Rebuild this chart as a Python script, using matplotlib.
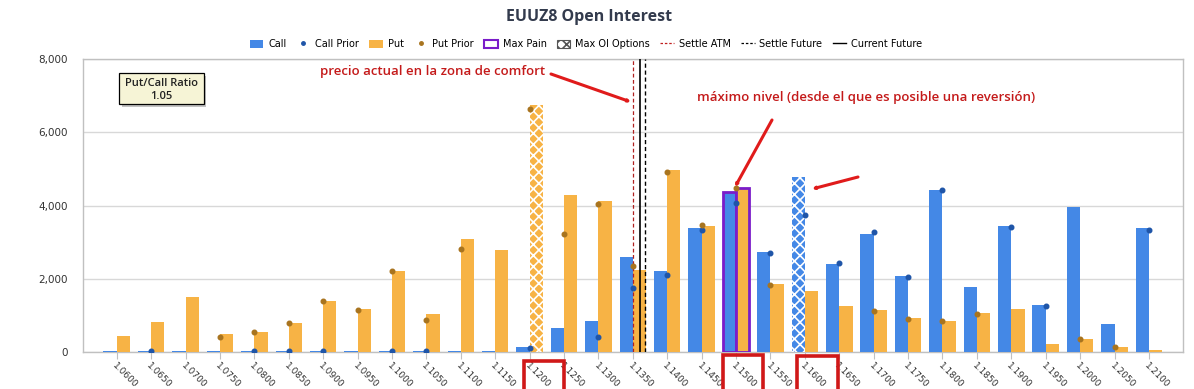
import numpy as np
import matplotlib
matplotlib.use("Agg")
import matplotlib.pyplot as plt
from matplotlib.patches import Rectangle, Patch, FancyArrowPatch
from matplotlib.lines import Line2D
from matplotlib.ticker import FuncFormatter

nan = np.nan

# strikes 1.0600 .. 1.2100
strikes = ["1.0600", "1.0650", "1.0700", "1.0750", "1.0800", "1.0850", "1.0900", "1.0950",
           "1.1000", "1.1050", "1.1100", "1.1150", "1.1200", "1.1250", "1.1300", "1.1350",
           "1.1400", "1.1450", "1.1500", "1.1550", "1.1600", "1.1650", "1.1700", "1.1750",
           "1.1800", "1.1850", "1.1900", "1.1950", "1.2000", "1.2050", "1.2100"]
calls = [30, 30, 30, 30, 30, 30, 30, 30, 30, 30, 30, 30, 120, 660, 850, 2580,
         2200, 3380, 4360, 2740, 4770, 2390, 3220, 2060, 4430, 1760, 3440, 1270, 3950, 770, 3380]
puts = [430, 810, 1500, 480, 540, 780, 1380, 1180, 2210, 1030, 3090, 2780, 6740, 4290, 4120, 2230,
        4980, 3450, 4470, 1840, 1650, 1240, 1130, 910, 850, 1050, 1160, 220, 360, 140, 55]
call_prior = [nan, 20, nan, nan, 20, 20, 20, nan, 20, 20, nan, nan, 110, nan, 390, 1740,
              2090, 3340, 4060, 2700, 3730, 2440, 3270, 2040, 4430, nan, 3410, 1250, nan, nan, 3340]
put_prior = [nan, nan, nan, 390, 540, 780, 1380, 1150, 2210, 880, 2800, nan, 6650, 3220, 4040, 2340,
             4920, 3460, 4470, 1820, nan, nan, 1100, 900, 850, 1030, nan, nan, 350, 140, nan]

max_pain = "1.1500"
max_oi_put = "1.1200"
max_oi_call = "1.1600"
settle_atm = 1.1350
current_future = 1.1360
settle_future = 1.1367
pc_ratio = "1.05"

W, H = 1194, 389
BLUE = "#4488e6"
ORANGE = "#f7b345"
PURPLE = "#7a1cc9"

plt.rcParams["hatch.linewidth"] = 1.2

fig = plt.figure(figsize=(W / 100, H / 100), dpi=100)
ax = fig.add_axes([83 / W, 1 - 351.7 / H, (1183 - 83) / W, (351.7 - 59.3) / H])

x = np.arange(len(strikes))
bw = 0.385

def strike_pos(s):
    return (s - 1.06) / 0.005

for i, s in enumerate(strikes):
    if s == max_pain:
        ax.bar(x[i] - bw / 2, calls[i], bw, color=BLUE, edgecolor=PURPLE, linewidth=2, zorder=3)
        ax.bar(x[i] + bw / 2, puts[i], bw, color=ORANGE, edgecolor=PURPLE, linewidth=2, zorder=3)
        continue
    if s == max_oi_call:
        ax.bar(x[i] - bw / 2, calls[i], bw, color=BLUE, edgecolor="white", linewidth=0,
               hatch="xxx", zorder=3)
    else:
        ax.bar(x[i] - bw / 2, calls[i], bw, color=BLUE, linewidth=0, zorder=3)
    if s == max_oi_put:
        ax.bar(x[i] + bw / 2, puts[i], bw, color=ORANGE, edgecolor="white", linewidth=0,
               hatch="xxx", zorder=3)
    else:
        ax.bar(x[i] + bw / 2, puts[i], bw, color=ORANGE, linewidth=0, zorder=3)

ax.plot(x, call_prior, ls="none", marker="o", ms=3.3, color="#1f55a8", zorder=5)
ax.plot(x, put_prior, ls="none", marker="o", ms=3.3, color="#a8741f", zorder=5)

ax.axvline(strike_pos(settle_atm), color="#b02020", ls=(0, (3, 2)), lw=0.9, zorder=4)
ax.axvline(strike_pos(current_future), color="black", ls="-", lw=1.2, zorder=4)
ax.axvline(strike_pos(settle_future), color="black", ls=(0, (3, 2)), lw=1.0, zorder=4)

ax.set_xlim(-0.98, 30.99)
ax.set_ylim(0, 8000)
ax.set_yticks([0, 2000, 4000, 6000, 8000])
ax.yaxis.set_major_formatter(FuncFormatter(lambda v, p: f"{int(v):,}"))
ax.grid(axis="y", color="#d8d8d8", lw=1, zorder=0)
ax.set_axisbelow(True)
ax.set_xticks(x)
ax.set_xticklabels(strikes, rotation=-45, ha="left", va="top", rotation_mode="anchor",
                   fontsize=6.5, color="#333333")
ax.tick_params(axis="x", length=5, color="#c0c0c0", pad=2)
ax.tick_params(axis="y", length=0, labelsize=7.5, labelcolor="#333333", pad=11)
for sp in ax.spines.values():
    sp.set_color("#c0c0c0")
    sp.set_linewidth(1)

fig.text(589 / W, 1 - 17 / H, "EUUZ8 Open Interest", ha="center", va="center",
         fontsize=11.5, color="#333b4d", fontweight="bold", family="Open Sans")

handles = [
    Patch(facecolor=BLUE, edgecolor="none"),
    Line2D([], [], ls="none", marker="o", ms=2.5, color="#1f55a8"),
    Patch(facecolor=ORANGE, edgecolor="none"),
    Line2D([], [], ls="none", marker="o", ms=2.5, color="#a8741f"),
    Patch(facecolor="white", edgecolor=PURPLE, linewidth=1.5),
    Patch(facecolor="white", edgecolor="#555555", hatch="xxx", linewidth=0.8),
    Line2D([], [], color="#c02020", ls=(0, (2, 1.5)), lw=0.9),
    Line2D([], [], color="black", ls=(0, (2, 1.5)), lw=0.9),
    Line2D([], [], color="black", ls="-", lw=1.0),
]
labels = ["Call", "Call Prior", "Put", "Put Prior", "Max Pain", "Max OI Options",
          "Settle ATM", "Settle Future", "Current Future"]
fig.legend(handles, labels, loc="center", bbox_to_anchor=(586 / W, 1 - 44 / H), ncol=9,
           frameon=False, fontsize=7, handlelength=1.4, handleheight=0.9,
           handletextpad=0.5, columnspacing=1.05)

# put/call ratio box
fig.patches.append(Rectangle((122 / W, 1 - 107 / H), 84 / W, 31 / H, transform=fig.transFigure,
                             facecolor="#9a9a9a", edgecolor="none", alpha=0.6))
fig.patches.append(Rectangle((119.5 / W, 1 - 104.3 / H), 84 / W, 31 / H, transform=fig.transFigure,
                             facecolor="#f6f4d6", edgecolor="black", linewidth=0.9))
fig.text(161.5 / W, 1 - 83.5 / H, "Put/Call Ratio", ha="center", va="center", fontsize=8,
         fontweight="semibold", color="#222222", family="Open Sans")
fig.text(161.5 / W, 1 - 96.5 / H, pc_ratio, ha="center", va="center", fontsize=8,
         fontweight="semibold", color="#222222", family="Open Sans")

def fpt(px, py):
    return (px / W, 1 - py / H)

fig.text(*fpt(320, 71), "precio actual en la zona de comfort", ha="left", va="center",
         fontsize=9.5, color="#c41a1a", family="Open Sans", fontweight="semibold")
fig.text(*fpt(697, 98), "máximo nivel (desde el que es posible una reversión)", ha="left",
         va="center", fontsize=9.5, color="#c41a1a", family="Open Sans", fontweight="semibold")

arrow_kw = dict(arrowstyle="-|>,head_length=1.0,head_width=0.5", color="#e01b1b", lw=2.2,
                shrinkA=0, shrinkB=0)
for tail, head in [((551, 74), (631, 102)), ((772, 120), (735, 187)), ((858, 177), (812, 189))]:
    fig.add_artist(FancyArrowPatch(fpt(*tail), fpt(*head), transform=fig.transFigure, **arrow_kw))

# red boxes around highlighted strikes
for (x0, y0, x1) in [(524, 361, 564), (723, 355, 763), (797, 356, 838)]:
    fig.patches.append(Rectangle((x0 / W, 1 - 392 / H), (x1 - x0) / W, (392 - y0) / H,
                                 transform=fig.transFigure, facecolor="none",
                                 edgecolor="#d01818", linewidth=2.6))

fig.savefig("out.png", dpi=100)
